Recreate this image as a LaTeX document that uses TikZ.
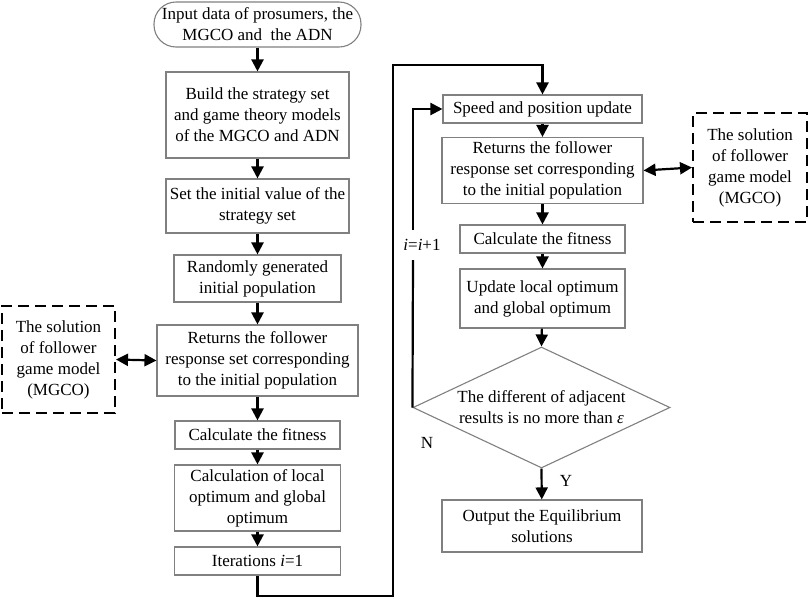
\documentclass[tikz,border=0pt]{standalone}
\usepackage{fontspec}
\setmainfont{Liberation Serif}
\usetikzlibrary{arrows.meta,shapes.geometric}
\begin{document}
\begin{tikzpicture}[x=1pt,y=-1pt,
  every node/.style={font=\fontsize{17}{21}\selectfont},
  box/.style={draw=black!50,line width=1.1pt,align=center,inner sep=0pt,fill=white},
  dbox/.style={draw=black,line width=2pt,dash pattern=on 11pt off 6pt,align=center,inner sep=0pt},
  arr/.style={line width=2.2pt,-{Triangle[length=12pt,width=12pt]}},
  darr/.style={line width=2.2pt,{Triangle[length=12pt,width=12pt]}-{Triangle[length=12pt,width=12pt]}},
  ln/.style={line width=2.2pt}]
\useasboundingbox (0,0) rectangle (809,598);
% left column
\node[box,rounded corners=22pt,minimum width=207pt,minimum height=45pt] (start) at (257.5,24.5) {Input data of prosumers, the\\MGCO and~ the ADN};
\node[box,minimum width=183pt,minimum height=86pt] (build) at (257.5,115) {Build the strategy set\\and game theory models\\of the MGCO and ADN};
\node[box,minimum width=183pt,minimum height=54pt] (set) at (257.5,206) {Set the initial value of the\\strategy set};
\node[box,minimum width=167pt,minimum height=47pt] (rand) at (257.5,278.5) {Randomly generated\\initial population};
\node[box,minimum width=201pt,minimum height=71pt] (retL) at (257.5,360.5) {Returns the follower\\response set corresponding\\to the initial population};
\node[box,minimum width=165pt,minimum height=28pt] (fitL) at (257.5,435) {Calculate the fitness};
\node[box,minimum width=166pt,minimum height=66pt] (calc) at (257.5,498) {Calculation of local\\optimum and global\\optimum};
\node[box,minimum width=166pt,minimum height=28pt] (iter) at (257.5,561) {Iterations \textit{i}=1};
\node[dbox,minimum width=113pt,minimum height=107pt] (solL) at (58.5,359.5) {The solution\\of follower\\game model\\(MGCO)};
% right column
\node[box,minimum width=199pt,minimum height=28pt] (speed) at (542.5,109) {Speed and position update};
\node[box,minimum width=201pt,minimum height=66pt] (retR) at (542.5,170.5) {Returns the follower\\response set corresponding\\to the initial population};
\node[dbox,minimum width=114pt,minimum height=109pt] (solR) at (750,167.5) {The solution\\of follower\\game model\\(MGCO)};
\node[box,minimum width=165pt,minimum height=28pt] (fitR) at (542.5,239) {Calculate the fitness};
\node[box,minimum width=165pt,minimum height=59pt] (upd) at (542.5,298.5) {Update local optimum\\and global optimum};
\node[box,shape=diamond,aspect=2.12,minimum width=257pt,minimum height=121pt] (dia) at (541.5,407.5) {The different of adjacent\\results is no more than \textit{ε}};
\node[box,minimum width=200pt,minimum height=52pt] (out) at (542,526) {Output the Equilibrium\\solutions};
% labels
\node (lab) at (422,245) {\textit{i}=\textit{i}+1};
\node (labN) at (427,443) {N};
\node (labY) at (566,481) {Y};
% coordinates
\coordinate (c1) at (393,596);
\coordinate (c2) at (393,65);
\coordinate (g1) at (413,260);
\coordinate (g2) at (413,230);
% connectors left
\draw[arr] (start) -- (build);
\draw[arr] (build) -- (set);
\draw[arr] (set) -- (rand);
\draw[arr] (rand) -- (retL);
\draw[arr] (retL) -- (fitL);
\draw[arr] (fitL) -- (calc);
\draw[arr] (calc) -- (iter);
\draw[darr] (solL.east) -- (retL.west);
% big connector
\draw[arr] (iter.south) |- (c1) -- (c2) -| (speed.north);
% right connectors
\draw[arr] (speed) -- (retR);
\draw[darr] (retR.east) -- (solR.west);
\draw[arr] (retR) -- (fitR);
\draw[arr] (fitR) -- (upd);
\draw[arr] (upd) -- (dia.north);
\draw[arr] (dia.south) -- (out);
% loop
\draw[ln] (dia.west) -- (g1);
\draw[arr] (g2) |- (speed.west);
\end{tikzpicture}
\end{document}
